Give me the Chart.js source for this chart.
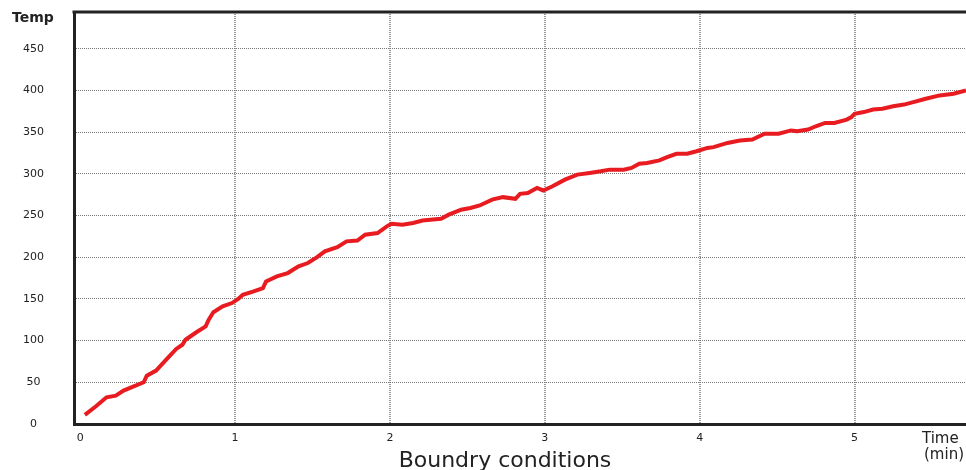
<!DOCTYPE html>
<html>
<head>
<meta charset="utf-8">
<script src="https://cdn.jsdelivr.net/npm/chart.js@4/dist/chart.umd.min.js"></script>
<style>
  html, body { margin: 0; padding: 0; background: #fff; }
  #wrap { position: relative; width: 966px; height: 470px; }
</style>
</head>
<body>
<div id="wrap"><canvas id="c" width="966" height="470"></canvas></div>
<script>
// ---- data ----
const timeMin = [0.03,0.10,0.17,0.23,0.28,0.33,0.41,0.43,0.49,0.56,0.62,0.66,0.68,0.75,0.81,0.83,0.86,0.92,0.98,
  1.02,1.05,1.12,1.18,1.20,1.27,1.34,1.41,1.47,1.53,1.58,1.66,1.72,1.79,1.84,1.92,1.98,
  2.01,2.08,2.15,2.21,2.33,2.38,2.46,2.52,2.58,2.66,2.73,2.81,2.84,2.89,2.95,2.99,
  3.05,3.13,3.21,3.29,3.36,3.42,3.51,3.56,3.61,3.66,3.74,3.79,3.85,3.92,3.98,
  4.05,4.09,4.18,4.26,4.34,4.42,4.51,4.59,4.63,4.70,4.75,4.81,4.87,4.95,4.98,
  5.00,5.06,5.12,5.18,5.25,5.32,5.38,5.46,5.55,5.64,5.72];
const temp = [11,21,32,34,40,44,50,58,64,78,90,95,101,110,117,125,134,141,145,
  150,155,159,163,171,177,181,189,193,200,207,212,219,220,227,229,237,
  240,239,241,244,246,251,257,259,262,269,272,270,276,277,283,280,
  285,293,299,301,303,305,305,307,312,313,316,320,324,324,327,
  331,332,337,340,341,348,348,352,351,353,357,361,361,365,368,
  372,374,377,378,381,383,386,390,394,396,400];
const xTicks = [0,1,2,3,4,5];
const yTicks = [0,50,100,150,200,250,300,350,400,450];
const yTitle = "Temp";
const xUnitLines = ["Time", "(min)"];
const chartTitle = "Boundry conditions";

const points = timeMin.map((t, i) => ({ x: t, y: temp[i] }));

const textPlugin = {
  id: 'texts',
  afterDraw(chart) {
    const ctx = chart.ctx;
    const area = chart.chartArea;
    ctx.save();
    // top frame line
    ctx.strokeStyle = '#222';
    ctx.lineWidth = 3;
    ctx.beginPath();
    ctx.moveTo(area.left - 1.5, area.top);
    ctx.lineTo(area.right, area.top);
    ctx.stroke();
    ctx.fillStyle = '#222';
    ctx.textAlign = 'left';
    ctx.textBaseline = 'alphabetic';
    ctx.font = 'bold 14px "DejaVu Sans"';
    ctx.fillText(yTitle, 12, 22);
    ctx.font = '15px "DejaVu Sans"';
    ctx.fillText(xUnitLines[0], 922, 443);
    ctx.fillText(xUnitLines[1], 924, 459);
    ctx.textAlign = 'center';
    ctx.font = '22px "DejaVu Sans"';
    ctx.fillText(chartTitle, 505, 467);
    ctx.restore();
  }
};

new Chart(document.getElementById('c'), {
  type: 'line',
  data: {
    datasets: [{
      data: points,
      borderColor: 'rgb(232,28,32)',
      borderWidth: 4,
      pointRadius: 0,
      tension: 0,
      fill: false
    }]
  },
  options: {
    responsive: false,
    animation: false,
    devicePixelRatio: 1,
    layout: { padding: { top: 12, left: 0, right: 0, bottom: 0 } },
    plugins: { legend: { display: false }, tooltip: { enabled: false }, title: { display: false } },
    scales: {
      x: {
        type: 'linear',
        min: -0.04,
        max: 5.72,
        afterBuildTicks: (axis) => { axis.ticks = xTicks.map(v => ({ value: v })); },
        afterFit: (axis) => { axis.height = 46; axis.paddingLeft = 0; axis.paddingRight = 0; },
        ticks: {
          padding: 8,
          color: '#222',
          font: { family: 'DejaVu Sans', size: 11 },
          maxRotation: 0,
          autoSkip: false
        },
        grid: {
          drawTicks: false,
          color: (c) => (c.tick && c.tick.value === 0) ? 'rgba(0,0,0,0)' : '#999',
          lineWidth: 2
        },
        border: { display: true, color: '#222', width: 3, dash: [1, 1] }
      },
      y: {
        type: 'linear',
        min: 0,
        max: 494,
        afterBuildTicks: (axis) => { axis.ticks = yTicks.map(v => ({ value: v })); },
        afterFit: (axis) => { axis.width = 74; axis.paddingTop = 0; axis.paddingBottom = 0; },
        ticks: {
          padding: 30,
          crossAlign: 'center',
          color: '#222',
          font: { family: 'DejaVu Sans', size: 11 }
        },
        grid: {
          drawTicks: false,
          color: '#777',
          lineWidth: 1
        },
        border: { display: true, color: '#222', width: 3, dash: [1, 1] }
      }
    }
  },
  plugins: [textPlugin]
});
</script>
</body>
</html>
